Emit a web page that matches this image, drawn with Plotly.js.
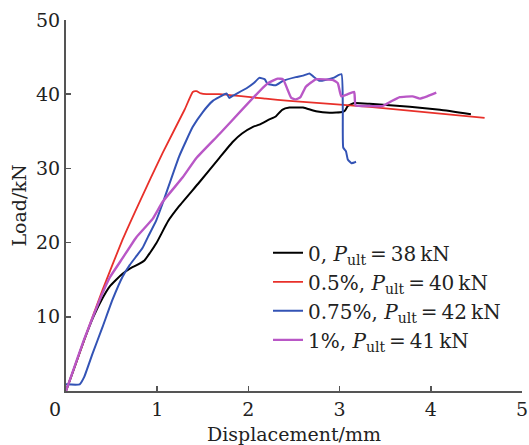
<!DOCTYPE html>
<html>
<head>
<meta charset="utf-8">
<script src="https://cdn.plot.ly/plotly-3.0.1.min.js"></script>
<style>html,body{margin:0;padding:0;background:#fff;}#chart{width:529px;height:445px;}</style>
</head>
<body>
<div id="chart"></div>
<script>
// Displacement (mm) and Load (kN)
const seriesNames = [
  "0, <i>P</i><sub>ult</sub>\u2009=\u200938\u2009kN",
  "0.5%, <i>P</i><sub>ult</sub>\u2009=\u200940\u2009kN",
  "0.75%, <i>P</i><sub>ult</sub>\u2009=\u200942\u2009kN",
  "1%, <i>P</i><sub>ult</sub>\u2009=\u200941\u2009kN"
];

const x0 = [0, 0.1, 0.2, 0.3, 0.4, 0.48, 0.55, 0.62, 0.7, 0.78, 0.86, 0.92, 0.99, 1.12, 1.24, 1.46, 1.68, 1.83, 1.93, 2.05, 2.12, 2.23, 2.3, 2.37, 2.45, 2.52, 2.6, 2.74, 2.89, 3.03, 3.06, 3.09, 3.16, 3.33, 3.77, 4.1, 4.44];
const y0 = [0, 3.4, 6.9, 10.0, 12.5, 14.1, 15.0, 15.8, 16.5, 17.0, 17.6, 18.6, 19.9, 22.9, 24.9, 28.1, 31.4, 33.6, 34.7, 35.6, 35.9, 36.6, 37.0, 37.9, 38.2, 38.2, 38.2, 37.7, 37.5, 37.6, 37.8, 38.4, 38.8, 38.7, 38.3, 37.9, 37.3];

const x1 = [0, 0.2, 0.4, 0.62, 0.8, 1.06, 1.3, 1.39, 1.43, 1.48, 1.54, 1.68, 2.19, 2.45, 3.33, 4.59];
const y1 = [0, 6.9, 13.6, 20.4, 25.3, 32.1, 37.9, 40.3, 40.4, 40.1, 40.0, 40.0, 39.4, 39.1, 38.3, 36.8];

const x2 = [0, 0.15, 0.2, 0.29, 0.4, 0.51, 0.62, 0.7, 0.84, 0.9, 0.99, 1.06, 1.24, 1.39, 1.5, 1.61, 1.68, 1.76, 1.79, 1.83, 1.98, 2.06, 2.12, 2.18, 2.21, 2.3, 2.38, 2.52, 2.6, 2.67, 2.71, 2.78, 2.93, 3.02, 3.035, 3.04, 3.07, 3.09, 3.13, 3.18];
const y2 = [0.9, 0.9, 1.9, 5.0, 8.6, 12.3, 15.4, 17.0, 19.3, 20.8, 23.0, 25.3, 31.6, 35.6, 37.6, 39.1, 39.6, 40.1, 39.5, 39.8, 40.8, 41.5, 42.2, 42.0, 41.4, 41.2, 41.8, 42.3, 42.5, 42.8, 42.4, 41.8, 42.2, 42.7, 38.0, 32.8, 32.3, 31.2, 30.7, 30.9];

const x3 = [0, 0.2, 0.37, 0.48, 0.62, 0.77, 0.95, 1.06, 1.28, 1.43, 1.68, 2.16, 2.23, 2.32, 2.38, 2.43, 2.47, 2.52, 2.57, 2.63, 2.74, 2.93, 2.98, 3.0, 3.02, 3.09, 3.16, 3.175, 3.33, 3.47, 3.56, 3.66, 3.8, 3.88, 3.96, 4.06];
const y3 = [0, 7.0, 12.3, 15.3, 17.9, 20.7, 23.2, 25.5, 28.8, 31.4, 34.6, 40.9, 41.6, 42.1, 42.0, 40.6, 39.5, 39.3, 39.6, 41.0, 42.0, 41.9, 41.5, 40.5, 39.7, 40.0, 40.3, 38.5, 38.4, 38.4, 39.0, 39.6, 39.7, 39.4, 39.7, 40.2];

const xTicks = [1, 2, 3, 4, 5];
const yTicks = [10, 20, 30, 40, 50];

const colors = ["#000000", "#e8302a", "#3353b5", "#b957c6"];
const widths = [2, 1.8, 2, 2.4];
const xs = [x0, x1, x2, x3];
const ys = [y0, y1, y2, y3];

const font = '"DejaVu Serif", serif';

const traces = xs.map((x, i) => ({
  x: x, y: ys[i], type: "scatter", mode: "lines", name: seriesNames[i],
  line: {color: colors[i], width: widths[i], shape: "spline", smoothing: 0.4}
}));

const axisCommon = {
  showgrid: false, zeroline: false, showline: true, linecolor: "#555", linewidth: 2,
  ticks: "inside", ticklen: 5, tickwidth: 1.5, tickcolor: "#555",
  tickfont: {family: font, size: 19, color: "#222"}
};

const layout = {
  width: 529, height: 445,
  margin: {l: 66, r: 7, t: 20, b: 54},
  paper_bgcolor: "#fff", plot_bgcolor: "#fff",
  showlegend: true,
  legend: {x: 0.443, y: 0.425, xanchor: "left", yanchor: "top", bgcolor: "rgba(0,0,0,0)",
           font: {family: font, size: 20, color: "#222"}, tracegroupgap: 0},
  xaxis: Object.assign({}, axisCommon, {range: [0, 5], tickvals: xTicks,
    title: {text: "Displacement/mm", font: {family: font, size: 19, color: "#222"}, standoff: 10}}),
  yaxis: Object.assign({}, axisCommon, {range: [0, 50], tickvals: yTicks,
    title: {text: "Load/kN", font: {family: font, size: 19, color: "#222"}, standoff: 4}}),
  annotations: [{text: "0", xref: "paper", yref: "paper", x: 0, y: 0, xshift: -11, yshift: -18,
    xanchor: "center", yanchor: "middle", showarrow: false, font: {family: font, size: 19, color: "#222"}}]
};

Plotly.newPlot("chart", traces, layout, {displayModeBar: false, staticPlot: true});
</script>
</body>
</html>
